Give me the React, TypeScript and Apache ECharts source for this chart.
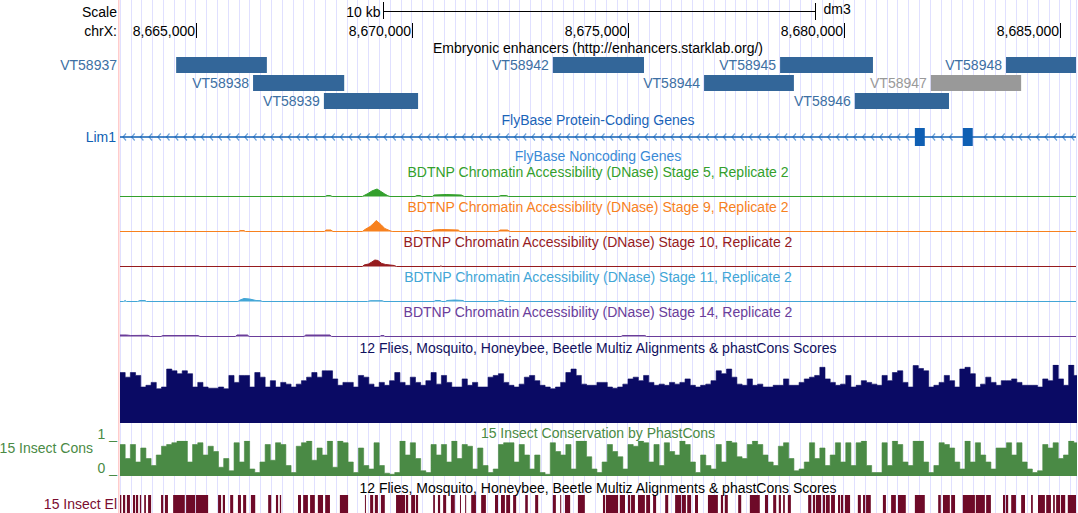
import React, { useEffect, useRef } from "react";
import * as echarts from "echarts";

// ---------- view / ruler ----------
const VIEW_START_KB = 8663.25;
const VIEW_END_KB = 8685.38;
const GUIDE_KB = 0.25;
const RULER_TICKS_BP = [8665000, 8670000, 8675000, 8680000, 8685000];
const SCALE_BAR_KB = [8669.34, 8679.34];
const ASSEMBLY = "dm3";
const CHROM = "chrX:";

// ---------- enhancers ----------
const ENHANCER_TITLE = "Embryonic enhancers (http://enhancers.starklab.org/)";
const ENHANCER_NAMES = ["VT58937", "VT58938", "VT58939", "VT58942", "VT58944", "VT58945", "VT58946", "VT58947", "VT58948"];
const ENHANCER_STARTS = [8664.55, 8666.33, 8667.97, 8673.27, 8676.77, 8678.53, 8680.26, 8682.02, 8683.76];
const ENHANCER_ENDS = [8666.65, 8668.44, 8670.15, 8675.38, 8678.85, 8680.68, 8682.44, 8684.11, 8685.9];
const ENHANCER_ROWS = [0, 1, 2, 0, 1, 0, 2, 1, 0];
const ENHANCER_GRAY = [false, false, false, false, false, false, false, true, false];

// ---------- genes ----------
const GENE_TITLE = "FlyBase Protein-Coding Genes";
const NONCODING_TITLE = "FlyBase Noncoding Genes";
const GENE_NAME = "Lim1";
const GENE_SPAN = [8655.0, 8695.0];
const GENE_EXONS = [[8681.65, 8681.88], [8682.76, 8682.99]];

// ---------- DNase tracks ----------
const DNASE_TITLES = [
  "BDTNP Chromatin Accessibility (DNase) Stage 5, Replicate 2",
  "BDTNP Chromatin Accessibility (DNase) Stage 9, Replicate 2",
  "BDTNP Chromatin Accessibility (DNase) Stage 10, Replicate 2",
  "BDTNP Chromatin Accessibility (DNase) Stage 11, Replicate 2",
  "BDTNP Chromatin Accessibility (DNase) Stage 14, Replicate 2",
];
const DNASE_COLORS = ["#33a02c", "#f7811e", "#961b1e", "#42a6d6", "#6a3d9a"];
const DNASE_S5 = [[8663.25, 0], [8668.0, 0], [8668.04, 1], [8668.12, 1], [8668.16, 0], [8668.86, 0], [8668.9, 1], [8668.99, 3], [8669.08, 5.5], [8669.2, 7.5], [8669.29, 5], [8669.38, 2.5], [8669.45, 0.8], [8669.5, 0], [8670.08, 0], [8670.12, 1], [8670.2, 1], [8670.24, 0], [8670.48, 0], [8670.52, 1.5], [8670.8, 2], [8671.15, 1.5], [8671.22, 0], [8672.02, 0], [8672.06, 1], [8672.2, 1], [8672.24, 0], [8685.38, 0]];
const DNASE_S9 = [[8663.25, 0], [8666.0, 0], [8666.03, 1], [8666.12, 1], [8666.15, 0], [8667.98, 0], [8668.02, 1.5], [8668.13, 1.5], [8668.18, 0], [8668.86, 0], [8668.92, 2], [8669.04, 5], [8669.13, 8.5], [8669.18, 11], [8669.29, 7], [8669.38, 3], [8669.5, 0.8], [8669.55, 0], [8670.05, 0], [8670.08, 1], [8670.18, 1], [8670.22, 0], [8670.45, 0], [8670.5, 1.5], [8670.7, 2], [8671.08, 1.5], [8671.12, 0], [8672.0, 0], [8672.05, 1.5], [8672.22, 1.5], [8672.28, 0], [8685.38, 0]];
const DNASE_S10 = [[8663.25, 0], [8668.86, 0], [8668.9, 1.5], [8669.0, 2.5], [8669.08, 4.5], [8669.15, 6.5], [8669.22, 6], [8669.31, 3], [8669.4, 2], [8669.6, 1], [8669.65, 0], [8670.66, 0], [8670.68, 0.8], [8670.7, 0], [8685.38, 0]];
const DNASE_S11 = [[8663.25, 0], [8663.33, 0], [8663.37, 1], [8663.4, 0], [8663.66, 0], [8663.71, 1], [8663.83, 1], [8663.86, 0], [8665.98, 0], [8666.03, 1.5], [8666.12, 3], [8666.25, 2.5], [8666.4, 1], [8666.51, 0.8], [8666.54, 0], [8668.98, 0], [8669.04, 0.8], [8669.32, 0.8], [8669.36, 0], [8670.52, 0], [8670.55, 1], [8670.66, 1], [8670.7, 0], [8670.78, 0], [8670.82, 1], [8671.0, 1.5], [8671.19, 1], [8671.22, 0], [8672.0, 0], [8672.03, 1], [8672.12, 1], [8672.16, 0], [8685.38, 0]];
const DNASE_S14 = [[8663.25, 1.5], [8663.4, 1.5], [8663.5, 1], [8663.9, 1.2], [8663.95, 0], [8664.2, 0], [8664.24, 1], [8665.06, 1], [8665.1, 0], [8665.92, 0], [8665.96, 1.5], [8666.2, 1.5], [8666.24, 0], [8667.51, 0], [8667.55, 1.5], [8668.11, 1.5], [8668.15, 0], [8669.27, 0], [8669.29, 1], [8669.36, 1], [8669.38, 0], [8674.85, 0], [8674.88, 1], [8675.4, 1], [8675.44, 0], [8685.38, 0]];
const DNASE_DATA = [DNASE_S5, DNASE_S9, DNASE_S10, DNASE_S11, DNASE_S14];

// ---------- conservation ----------
const MULTIZ_TITLE = "12 Flies, Mosquito, Honeybee, Beetle Multiz Alignments & phastCons Scores";
const PHASTCONS_TITLE = "15 Insect Conservation by PhastCons";
const BIN_KB = 0.12;
const MULTIZ = [
  87, 79, 87, 82, 62, 65, 70, 59, 62, 93, 90, 85, 90, 85, 62, 70, 62, 60, 60, 62,
  59, 82, 70, 82, 82, 62, 87, 79, 62, 73, 62, 70, 67, 62, 67, 73, 79, 87, 79, 90,
  90, 76, 65, 70, 70, 62, 82, 79, 67, 62, 70, 65, 73, 87, 70, 65, 79, 70, 65, 73,
  87, 67,
  82, 70, 62, 62, 76, 65, 70, 62, 62, 79, 82, 85, 70, 65, 62, 67, 79, 82, 73, 65,
  62, 59, 62, 70, 87, 93, 82, 67, 65, 65, 70, 70, 62, 60, 62, 67, 76, 79, 73, 82,
  70, 65, 67, 65, 70, 67, 70, 76, 65, 62, 65, 67, 73, 90, 85, 93, 79, 67, 65, 76,
  65, 67,
  62, 62, 65, 65, 76, 65, 65, 70, 76, 79, 82, 96, 76, 70, 65, 67, 82, 62, 65, 73,
  70, 67, 65, 82, 73, 87, 90, 70, 62, 99, 94, 90, 62, 65, 70, 82, 73, 62, 93, 96,
  85, 62, 67, 79, 70, 65, 73, 73, 76, 70, 65, 65, 65, 62, 76, 73, 100, 76, 65, 100,
  82,
];
const PHASTCONS = [
  90, 50, 90, 40, 80, 50, 30, 60, 85, 90, 95, 100, 100, 40, 90, 95, 60, 85, 70, 25,
  50, 15, 95, 40, 100, 20, 10, 40, 90, 45, 95, 90, 30, 10, 85, 95, 100, 45, 80, 60,
  100, 25, 100, 95, 40, 10, 80, 30, 20, 95, 30, 8, 5, 10, 100, 60, 95, 50, 15, 10,
  90, 60,
  90, 40, 100, 50, 90, 85, 20, 80, 30, 10, 20, 90, 95, 95, 40, 90, 60, 20, 60, 10,
  5, 95, 70, 60, 90, 20, 100, 100, 55, 20, 10, 40, 90, 70, 55, 20, 90, 85, 100, 95,
  40, 90, 30, 95, 70, 60, 100, 90, 40, 10, 60, 30, 20, 90, 40, 100, 95, 55, 50, 90,
  100, 90,
  60, 40, 30, 85, 95, 50, 15, 20, 40, 95, 50, 80, 30, 60, 95, 40, 95, 30, 95, 100,
  30, 10, 10, 95, 30, 100, 90, 40, 30, 100, 100, 40, 10, 30, 95, 90, 80, 40, 20, 100,
  40, 95, 60, 40, 20, 80, 80, 95, 60, 95, 40, 20, 10, 15, 90, 80, 95, 50, 60, 100,
  95,
];
const ELEMENTS_TITLE = "12 Flies, Mosquito, Honeybee, Beetle Multiz Alignments & phastCons Scores";
const ELEMENTS = [
  [8663.25, 8663.28], [8663.32, 8663.37], [8663.41, 8663.48], [8663.55, 8663.6], [8663.62, 8663.67], [8663.71, 8663.74], [8663.81, 8663.85], [8663.9, 8663.97],
  [8664.2, 8664.25], [8664.29, 8664.36], [8664.48, 8664.75], [8664.78, 8664.99], [8665.01, 8665.29], [8665.52, 8665.59], [8665.63, 8665.68], [8665.8, 8665.87],
  [8665.98, 8666.05], [8666.1, 8666.17], [8666.28, 8666.38], [8666.68, 8666.75], [8666.86, 8666.91], [8666.95, 8666.98], [8667.37, 8667.44], [8667.49, 8667.6],
  [8667.65, 8667.76], [8667.83, 8667.95], [8668.0, 8668.11], [8668.34, 8668.53], [8668.92, 8668.94], [8669.04, 8669.11], [8669.15, 8669.22], [8669.29, 8669.38],
  [8669.64, 8669.85], [8669.87, 8669.92], [8669.99, 8670.08], [8670.1, 8670.15], [8670.5, 8670.54], [8670.61, 8670.66], [8670.73, 8670.8], [8670.91, 8671.0],
  [8671.12, 8671.14], [8671.24, 8671.26], [8671.38, 8671.49], [8671.61, 8671.72], [8671.93, 8672.0], [8672.07, 8672.16], [8672.19, 8672.28], [8672.35, 8672.42],
  [8672.63, 8672.69], [8672.86, 8672.93], [8673.27, 8673.34], [8673.44, 8673.46], [8673.55, 8673.67], [8673.85, 8674.01], [8674.43, 8674.48], [8674.5, 8674.78],
  [8674.82, 8674.94], [8675.01, 8675.06], [8675.08, 8675.17], [8675.24, 8675.4], [8675.43, 8675.52], [8675.59, 8675.66], [8675.87, 8675.94], [8676.1, 8676.24],
  [8676.26, 8676.35], [8676.38, 8676.47], [8676.56, 8676.63], [8676.86, 8677.09], [8677.16, 8677.21], [8677.25, 8677.32], [8677.56, 8677.63], [8677.83, 8678.06],
  [8678.18, 8678.25], [8678.37, 8678.44], [8678.5, 8678.55], [8678.6, 8678.64], [8678.71, 8678.78], [8679.18, 8679.25], [8679.29, 8679.34], [8679.36, 8679.48],
  [8679.52, 8679.57], [8679.59, 8679.68], [8679.71, 8679.8], [8679.87, 8679.92], [8679.94, 8679.99], [8680.03, 8680.15], [8680.33, 8680.4], [8680.45, 8680.5],
  [8680.52, 8680.63], [8680.91, 8680.98], [8681.1, 8681.21], [8681.26, 8681.44], [8681.65, 8681.88], [8682.19, 8682.25], [8682.3, 8682.46], [8682.49, 8682.58],
  [8682.76, 8683.04], [8683.06, 8683.27], [8683.3, 8683.41], [8683.69, 8683.74], [8683.76, 8683.81], [8683.88, 8683.99], [8684.11, 8684.2], [8684.34, 8684.38],
  [8684.5, 8684.66], [8684.69, 8684.8], [8684.85, 8684.89], [8684.92, 8685.01], [8685.03, 8685.13], [8685.19, 8685.38],
];

// ---------- styling ----------
const FONT = '"Liberation Sans", Arial, Helvetica, sans-serif';
const FS = 14;
const ENH_BLUE = "#336699";
const ENH_LABEL = "#3d6fa3";
const GRAY = "#999999";
const GENE_BLUE = "#0f5fb3";
const CHEVRON = "#6fa3dc";
const NAVY = "#0a0a64";
const CONS_GREEN = "#4a8a45";
const MAROON = "#6e0a28";

function txt(x: number, y: number, text: string, fill: string, align: string = "center") {
  return {
    type: "text",
    x,
    y,
    silent: true,
    z: 50,
    style: { text, fill, fontSize: FS, fontFamily: FONT, align, verticalAlign: "middle" },
  };
}

function clip(r: any, cs: any) {
  return echarts.graphic.clipRectByRect(r, { x: cs.x, y: cs.y, width: cs.width, height: cs.height });
}

function buildOption(): any {
  const dnaseTops = [180.5, 215.5, 250.5, 285.5, 320.5];
  const gridDefs: any[] = [
    { top: 0, height: 513 },
    { top: 56, height: 54 },
    { top: 128, height: 18 },
    ...dnaseTops.map((t) => ({ top: t, height: 16 })),
    { top: 365, height: 58 },
    { top: 441, height: 35 },
    { top: 495, height: 18 },
  ];
  const grid = gridDefs.map((g) => ({ left: 120, width: 956, containLabel: false, ...g }));
  const xAxis = grid.map((_, i) => ({
    gridIndex: i,
    type: "value",
    min: VIEW_START_KB,
    max: VIEW_END_KB,
    interval: GUIDE_KB,
    show: i === 0,
    axisLine: { show: false },
    axisTick: { show: false },
    axisLabel: { show: false },
    splitLine: { show: i === 0, lineStyle: { color: "#e0e0ff", width: 1 } },
  }));
  const yRanges: any[] = [
    [0, 1, false],
    [0, 3, true],
    [0, 1, false],
    [0, 16, false],
    [0, 16, false],
    [0, 16, false],
    [0, 16, false],
    [0, 16, false],
    [0, 100, false],
    [0, 100, false],
    [0, 1, false],
  ];
  const yAxis = yRanges.map((r, i) => ({
    gridIndex: i,
    type: "value",
    min: r[0],
    max: r[1],
    inverse: r[2],
    show: false,
    splitLine: { show: false },
  }));

  const series: any[] = [];

  // ruler
  series.push({
    type: "custom",
    xAxisIndex: 0,
    yAxisIndex: 0,
    data: RULER_TICKS_BP.map((bp) => [bp, 0]),
    renderItem: (params: any, api: any) => {
      const bp = api.value(0) as number;
      const x = Math.round(api.coord([bp / 1000, 0])[0]) + 0.5;
      return {
        type: "group",
        children: [
          { type: "line", shape: { x1: x, y1: 23, x2: x, y2: 38 }, style: { stroke: "#000", lineWidth: 1 } },
          {
            type: "text",
            x: x - 1.5,
            y: 31,
            style: { text: bp.toLocaleString("en-US"), fill: "#000", fontSize: FS, fontFamily: FONT, align: "right", verticalAlign: "middle" },
          },
        ],
      };
    },
  });

  // scale bar
  series.push({
    type: "custom",
    xAxisIndex: 0,
    yAxisIndex: 0,
    data: [SCALE_BAR_KB],
    renderItem: (params: any, api: any) => {
      const a = api.value(0) as number;
      const b = api.value(1) as number;
      const x1 = Math.round(api.coord([a, 0])[0]) + 0.5;
      const x2 = Math.round(api.coord([b, 0])[0]) + 0.5;
      const st = { stroke: "#000", lineWidth: 1 };
      return {
        type: "group",
        children: [
          { type: "line", shape: { x1, y1: 11.5, x2, y2: 11.5 }, style: st },
          { type: "line", shape: { x1, y1: 2, x2: x1, y2: 19 }, style: st },
          { type: "line", shape: { x1: x2, y1: 3, x2: x2, y2: 20 }, style: st },
          {
            type: "text",
            x: x1 - 3,
            y: 12,
            style: { text: `${Math.round(b - a)} kb`, fill: "#000", fontSize: FS, fontFamily: FONT, align: "right", verticalAlign: "middle" },
          },
          {
            type: "text",
            x: x2 + 8,
            y: 9,
            style: { text: ASSEMBLY, fill: "#000", fontSize: FS, fontFamily: FONT, align: "left", verticalAlign: "middle" },
          },
        ],
      };
    },
  });

  // enhancers
  series.push({
    type: "custom",
    xAxisIndex: 1,
    yAxisIndex: 1,
    data: ENHANCER_NAMES.map((_, i) => [ENHANCER_STARTS[i], ENHANCER_ENDS[i], ENHANCER_ROWS[i], i]),
    renderItem: (params: any, api: any) => {
      const cs = params.coordSys;
      const s = api.value(0), e = api.value(1), r = api.value(2), i = api.value(3);
      const p1 = api.coord([s, r]);
      const p2 = api.coord([e, r + 1]);
      const y1 = p1[1] + 1;
      const y2 = p2[1] - 1;
      const rect = clip({ x: p1[0], y: y1, width: p2[0] - p1[0], height: y2 - y1 }, cs);
      const gray = ENHANCER_GRAY[i];
      const name = ENHANCER_NAMES[i];
      const lx = p1[0] - 4;
      const w = name.length * 8;
      const labelX = lx - w < cs.x ? cs.x - 3 : lx;
      const children: any[] = [];
      if (rect) children.push({ type: "rect", shape: rect, style: { fill: gray ? GRAY : ENH_BLUE } });
      children.push({
        type: "text",
        x: labelX,
        y: (y1 + y2) / 2,
        style: { text: name, fill: gray ? GRAY : ENH_LABEL, fontSize: FS, fontFamily: FONT, align: "right", verticalAlign: "middle" },
      });
      return { type: "group", children };
    },
  });

  // gene line with chevrons
  series.push({
    type: "custom",
    xAxisIndex: 2,
    yAxisIndex: 2,
    data: [GENE_SPAN],
    renderItem: (params: any, api: any) => {
      const cs = params.coordSys;
      const a = Math.max(api.coord([api.value(0), 0])[0], cs.x);
      const b = Math.min(api.coord([api.value(1), 0])[0], cs.x + cs.width);
      const y = cs.y + cs.height / 2;
      const exPx = GENE_EXONS.map((ex) => [api.coord([ex[0], 0])[0], api.coord([ex[1], 0])[0]]);
      const children: any[] = [];
      for (let x = a + 3; x < b - 2; x += 8.7) {
        if (exPx.some((p) => x > p[0] - 5 && x < p[1] + 3)) continue;
        children.push({
          type: "polyline",
          shape: { points: [[x + 3, y - 3.5], [x, y], [x + 3, y + 3.5]] },
          style: { stroke: CHEVRON, lineWidth: 1.2, fill: null },
        });
      }
      children.push({ type: "line", shape: { x1: a, y1: y, x2: b, y2: y }, style: { stroke: GENE_BLUE, lineWidth: 1.5 } });
      return { type: "group", children };
    },
  });

  // exons
  series.push({
    type: "custom",
    xAxisIndex: 2,
    yAxisIndex: 2,
    data: GENE_EXONS,
    renderItem: (params: any, api: any) => {
      const p1 = api.coord([api.value(0), 1]);
      const p2 = api.coord([api.value(1), 0]);
      return { type: "rect", shape: { x: p1[0], y: p1[1], width: p2[0] - p1[0], height: p2[1] - p1[1] }, style: { fill: GENE_BLUE } };
    },
  });

  // DNase tracks
  DNASE_DATA.forEach((d, i) => {
    series.push({
      type: "line",
      xAxisIndex: 3 + i,
      yAxisIndex: 3 + i,
      data: d,
      symbol: "none",
      smooth: false,
      lineStyle: { color: DNASE_COLORS[i], width: 1 },
      itemStyle: { color: DNASE_COLORS[i] },
      areaStyle: { color: DNASE_COLORS[i], opacity: 1 },
      silent: true,
    });
  });

  // binned conservation wiggles (stepped area, one value per bin)
  const wiggle = (axis: number, values: number[], color: string) => {
    const pts: number[][] = values.map((v, i) => [VIEW_START_KB + i * BIN_KB, v]);
    pts.push([VIEW_START_KB + values.length * BIN_KB, values[values.length - 1]]);
    return {
      type: "line",
      xAxisIndex: axis,
      yAxisIndex: axis,
      data: pts,
      step: "end",
      symbol: "none",
      smooth: false,
      clip: true,
      lineStyle: { color, width: 0.6 },
      itemStyle: { color },
      areaStyle: { color, opacity: 1 },
      silent: true,
    };
  };
  series.push(wiggle(8, MULTIZ, NAVY));
  series.push(wiggle(9, PHASTCONS, CONS_GREEN));

  // conserved elements
  series.push({
    type: "custom",
    xAxisIndex: 10,
    yAxisIndex: 10,
    data: ELEMENTS,
    renderItem: (params: any, api: any) => {
      const cs = params.coordSys;
      const p1 = api.coord([api.value(0), 1]);
      const p2 = api.coord([api.value(1), 0]);
      const r = clip({ x: p1[0], y: p1[1], width: Math.max(1, p2[0] - p1[0]), height: p2[1] - p1[1] }, cs);
      return r ? { type: "rect", shape: r, style: { fill: MAROON } } : null;
    },
  });

  const graphic: any[] = [
    { type: "rect", shape: { x: 118, y: 0, width: 1.5, height: 513 }, style: { fill: "#ffcccc" }, silent: true, z: 1 },
    txt(117, 12, "Scale", "#000", "right"),
    txt(117, 31, CHROM, "#000", "right"),
    txt(598, 48, ENHANCER_TITLE, "#000"),
    txt(598, 120, GENE_TITLE, "#1a64b8"),
    txt(116, 137, GENE_NAME, GENE_BLUE, "right"),
    txt(598, 156, NONCODING_TITLE, "#3a8ad6"),
    ...DNASE_TITLES.map((t, i) => txt(598, 172 + 35 * i, t, DNASE_COLORS[i])),
    txt(598, 348, MULTIZ_TITLE, "#10105e"),
    txt(598, 433, PHASTCONS_TITLE, CONS_GREEN),
    txt(117, 434, "1 _", CONS_GREEN, "right"),
    txt(93, 448, "15 Insect Cons", CONS_GREEN, "right"),
    txt(117, 468, "0 _", CONS_GREEN, "right"),
    txt(598, 488, ELEMENTS_TITLE, "#000"),
    txt(117, 504, "15 Insect El", "#7a0c30", "right"),
  ];

  return { animation: false, backgroundColor: "#ffffff", grid, xAxis, yAxis, series, graphic };
}

export default function App() {
  const ref = useRef<HTMLDivElement>(null);
  useEffect(() => {
    document.body.style.margin = "0";
    const chart = echarts.init(ref.current!, null, { renderer: "svg" });
    chart.setOption(buildOption());
    return () => chart.dispose();
  }, []);
  return <div ref={ref} style={{ position: "absolute", left: 0, top: 0, width: 1078, height: 513 }} />;
}
